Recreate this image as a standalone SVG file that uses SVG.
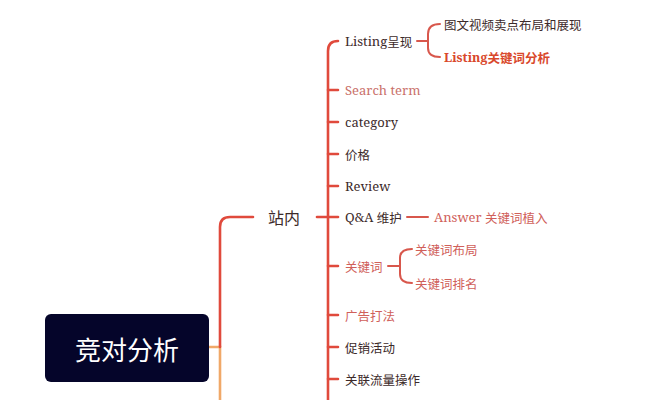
<svg xmlns="http://www.w3.org/2000/svg" width="651" height="400" viewBox="0 0 651 400">
<style>
.red{fill:none;stroke:#e04a3c;stroke-width:2.6;stroke-linecap:round}
.sub{fill:none;stroke:#d8574c;stroke-width:2;stroke-linecap:round}
.org{fill:none;stroke:#f0a868;stroke-width:2.6}
.t{font-family:"Noto Serif","DejaVu Serif","Noto Sans CJK SC",serif;font-size:13px;fill:#3c2a2a;dominant-baseline:central}
.pink{fill:#c9706a}
.rose{fill:#d0605a}
.bold{font-weight:bold;fill:#d9482b}
.cjk{font-family:"Noto Sans CJK SC",sans-serif;font-size:12.5px}
</style>
<rect width="651" height="400" fill="#ffffff"/>
<g id="connectors">
<path class="org" d="M208,347 L220,347 L220,400"/>
<path class="red" d="M220,347 L220,227 Q220,217 230,217 L253,217"/>
<path class="red" d="M317,217 L338,217"/>
<path class="red" d="M328,400 L328,51 Q328,41 338,41"/>
<path class="red" d="M328,90 L338,90 M328,122 L338,122 M328,154 L338,154 M328,186 L338,186 M328,266 L338,266 M328,315 L338,315 M328,347 L338,347 M328,379 L338,379"/>
<path class="sub" d="M417,41 L428,41 M440,24 Q428,24 428,34 L428,48 Q428,57 440,57"/>
<path class="sub" d="M407,217 L428,217"/>
<path class="sub" d="M388,266 L400,266 M412,249 Q400,249 400,258 L400,274 Q400,283 412,283"/>
</g>
<g id="root">
<rect x="45" y="314" width="164" height="68" rx="6" fill="#05052a"/>
<text x="127" y="348" text-anchor="middle" dominant-baseline="central" font-family="'Noto Sans CJK SC',sans-serif" font-size="26" fill="#ffffff">竞对分析</text>
</g>
<g id="zhannei"><text x="268" y="217" class="t cjk" style="font-size:16px">站内</text></g>
<g id="listing"><text x="345" y="41" class="t">Listing<tspan class="cjk">呈现</tspan></text></g>
<g id="listing-1"><text x="444" y="24" class="t cjk">图文视频卖点布局和展现</text></g>
<g id="listing-2"><text x="444" y="57" class="t bold" style="font-size:12.5px">Listing<tspan class="cjk">关键词分析</tspan></text></g>
<g id="search"><text x="345" y="90" class="t pink">Search term</text></g>
<g id="category"><text x="345" y="122" class="t">category</text></g>
<g id="price"><text x="345" y="154" class="t cjk">价格</text></g>
<g id="review"><text x="345" y="186" class="t">Review</text></g>
<g id="qa"><text x="345" y="217" class="t">Q&amp;A <tspan class="cjk">维护</tspan></text></g>
<g id="answer"><text x="434" y="217" class="t rose">Answer <tspan class="cjk">关键词植入</tspan></text></g>
<g id="keyword"><text x="345" y="266" class="t cjk rose">关键词</text></g>
<g id="kw-1"><text x="415" y="249" class="t cjk rose">关键词布局</text></g>
<g id="kw-2"><text x="415" y="283" class="t cjk rose">关键词排名</text></g>
<g id="ads"><text x="345" y="315" class="t cjk rose">广告打法</text></g>
<g id="promo"><text x="345" y="347" class="t cjk">促销活动</text></g>
<g id="traffic"><text x="345" y="379" class="t cjk">关联流量操作</text></g>
</svg>
